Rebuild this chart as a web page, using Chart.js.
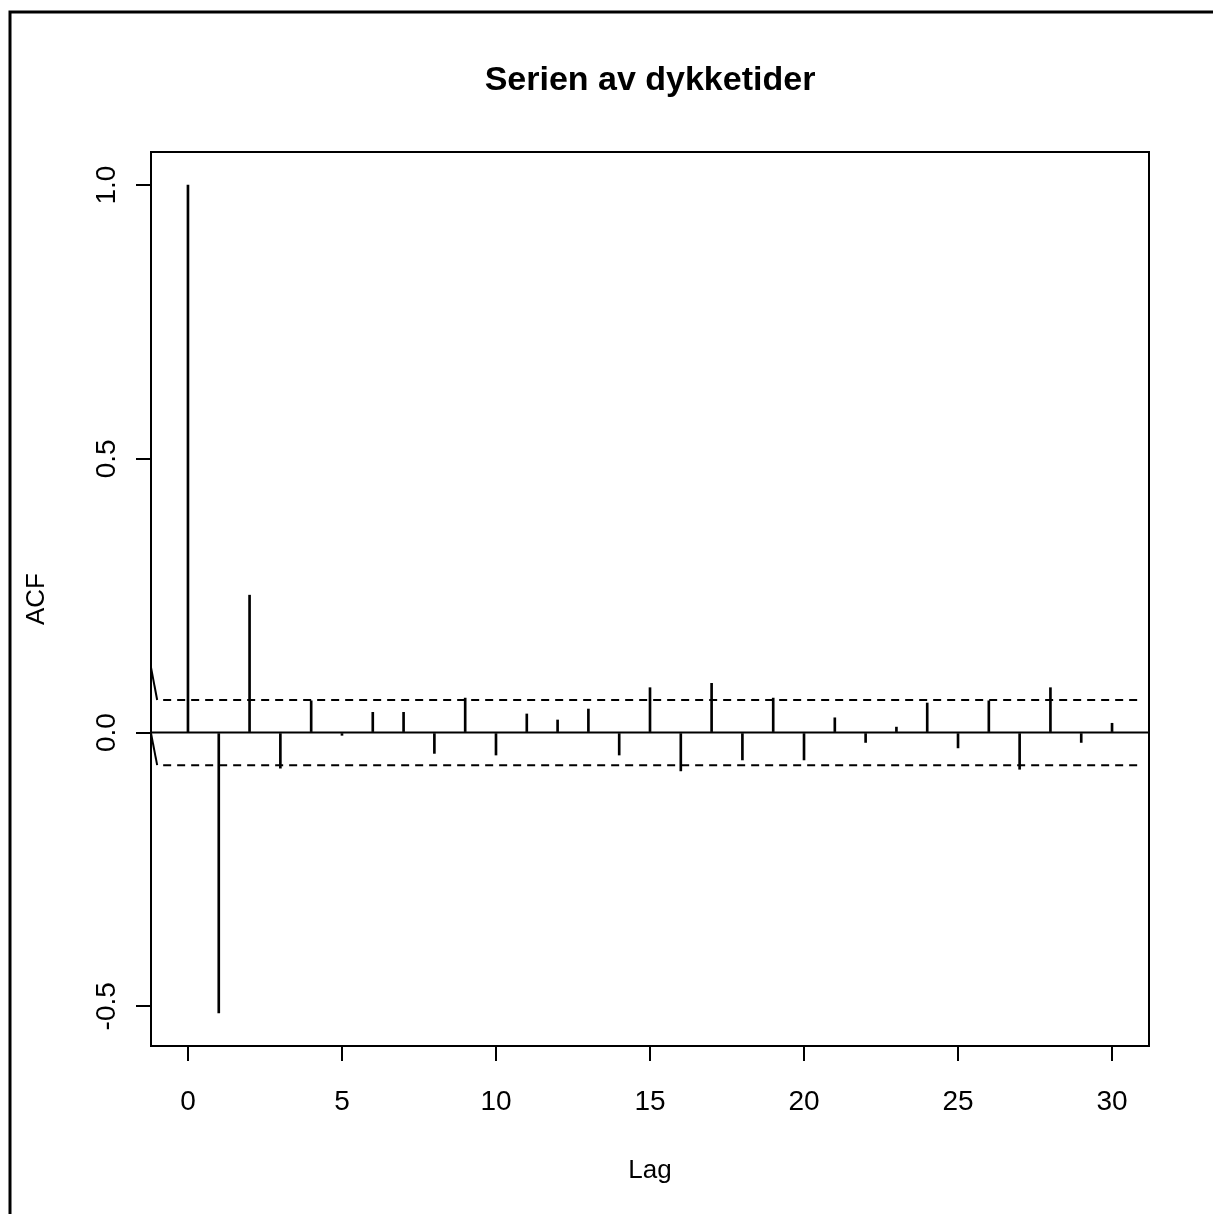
<!DOCTYPE html>
<html>
<head>
<meta charset="utf-8">
<title>Serien av dykketider</title>
<script src="https://cdn.jsdelivr.net/npm/chart.js@4.4.1/dist/chart.umd.min.js"></script>
<style>
  html, body { margin: 0; padding: 0; background: #ffffff; }
  canvas { display: block; }
</style>
</head>
<body>
<canvas id="acf" width="1213" height="1214"></canvas>
<script>
"use strict";

// Autocorrelation of the dive-time series, lags 0..30
const lags = [0, 1, 2, 3, 4, 5, 6, 7, 8, 9, 10, 11, 12, 13, 14, 15,
              16, 17, 18, 19, 20, 21, 22, 23, 24, 25, 26, 27, 28, 29, 30];
const acfValues = [1.000, -0.512, 0.251, -0.065, 0.058, -0.005, 0.037, 0.037,
                   -0.038, 0.063, -0.041, 0.034, 0.023, 0.043, -0.041, 0.082,
                   -0.070, 0.090, -0.050, 0.063, -0.050, 0.027, -0.018, 0.010,
                   0.054, -0.028, 0.058, -0.067, 0.082, -0.018, 0.017];

// Confidence band (dashed) and the short solid lead-in segments at its left end
const ciBound = 0.0595;
const ciLags = [-1, 30.86];
const upperLeadLags = [-1.2, -1];
const upperLeadValues = [0.119, 0.0595];
const lowerLeadLags = [-1.2, -1];
const lowerLeadValues = [-0.001, -0.0595];

// Axes
const xRange = [-1.2, 31.2];
const yRange = [-0.5725, 1.0605];
const xTickValues = [0, 5, 10, 15, 20, 25, 30];
const yTickValues = [-0.5, 0.0, 0.5, 1.0];
const yTickLabels = ["-0.5", "0.0", "0.5", "1.0"];

const titleText = "Serien av dykketider";
const xTitle = "Lag";
const yTitle = "ACF";

const FONT = "'Liberation Sans', Arial, Helvetica, sans-serif";
const TICK_SIZE = 28;

function points(xs, ys) {
  return xs.map((x, i) => ({x: x, y: ys[i]}));
}

function lineSet(data, dash) {
  return {
    type: "line",
    data: data,
    borderColor: "#000000",
    borderWidth: 2,
    borderDash: dash || [],
    borderDashOffset: dash ? 8 : 0,
    pointRadius: 0,
    tension: 0,
    fill: false
  };
}

// Frame, plot box, main title and rotated y tick labels
const decorations = {
  id: "decorations",
  beforeDraw(chart) {
    const ctx = chart.ctx;
    ctx.save();
    ctx.fillStyle = "#ffffff";
    ctx.fillRect(0, 0, chart.width, chart.height);
    ctx.strokeStyle = "#000000";
    ctx.lineWidth = 3;
    ctx.beginPath();
    ctx.moveTo(10, chart.height);
    ctx.lineTo(10, 12);
    ctx.lineTo(chart.width, 12);
    ctx.stroke();
    ctx.restore();
  },
  afterDraw(chart) {
    const ctx = chart.ctx;
    const area = chart.chartArea;
    const yScale = chart.scales.y;
    ctx.save();
    ctx.strokeStyle = "#000000";
    ctx.lineWidth = 2;
    ctx.strokeRect(area.left, area.top, area.right - area.left, area.bottom - area.top);

    ctx.fillStyle = "#000000";
    ctx.font = "bold 34px " + FONT;
    ctx.textAlign = "center";
    ctx.textBaseline = "alphabetic";
    ctx.fillText(titleText, (area.left + area.right) / 2, 90);

    ctx.font = TICK_SIZE + "px " + FONT;
    yTickValues.forEach((v, i) => {
      ctx.save();
      ctx.translate(115, yScale.getPixelForValue(v));
      ctx.rotate(-Math.PI / 2);
      ctx.fillText(yTickLabels[i], 0, 0);
      ctx.restore();
    });
    ctx.restore();
  }
};

const ctx = document.getElementById("acf").getContext("2d");
new Chart(ctx, {
  type: "bar",
  data: {
    datasets: [
      {
        type: "bar",
        data: points(lags, acfValues),
        backgroundColor: "#000000",
        borderWidth: 0,
        barThickness: 2
      },
      lineSet(points(xRange, [0, 0])),
      lineSet(points(ciLags, [ciBound, ciBound]), [8, 6]),
      lineSet(points(ciLags, [-ciBound, -ciBound]), [8, 6]),
      lineSet(points(upperLeadLags, upperLeadValues)),
      lineSet(points(lowerLeadLags, lowerLeadValues))
    ]
  },
  options: {
    responsive: false,
    animation: false,
    devicePixelRatio: 1,
    layout: {padding: {left: 0, top: 152, right: 64, bottom: 0}},
    plugins: {
      legend: {display: false},
      tooltip: {enabled: false},
      title: {display: false}
    },
    scales: {
      x: {
        type: "linear",
        offset: false,
        min: xRange[0],
        max: xRange[1],
        afterBuildTicks(scale) {
          scale.ticks = xTickValues.map(v => ({value: v}));
        },
        afterFit(scale) { scale.height = 168; },
        border: {display: false},
        grid: {
          display: true,
          offset: false,
          drawOnChartArea: false,
          drawTicks: true,
          tickLength: 15,
          lineWidth: 2,
          color: "#000000"
        },
        ticks: {
          color: "#000000",
          font: {family: FONT, size: TICK_SIZE},
          padding: 24,
          maxRotation: 0,
          autoSkip: false,
          callback: v => String(v)
        },
        title: {
          display: true,
          text: xTitle,
          color: "#000000",
          font: {family: FONT, size: 26},
          padding: {top: 0, bottom: 28}
        }
      },
      y: {
        type: "linear",
        min: yRange[0],
        max: yRange[1],
        afterBuildTicks(scale) {
          scale.ticks = yTickValues.map(v => ({value: v}));
        },
        afterFit(scale) { scale.width = 151; },
        border: {display: false},
        grid: {
          display: true,
          drawOnChartArea: false,
          drawTicks: true,
          tickLength: 15,
          lineWidth: 2,
          color: "#000000"
        },
        ticks: {display: false},
        title: {
          display: true,
          text: yTitle,
          color: "#000000",
          font: {family: FONT, size: 26},
          padding: {top: 21, bottom: 0}
        }
      }
    }
  },
  plugins: [decorations]
});
</script>
</body>
</html>
